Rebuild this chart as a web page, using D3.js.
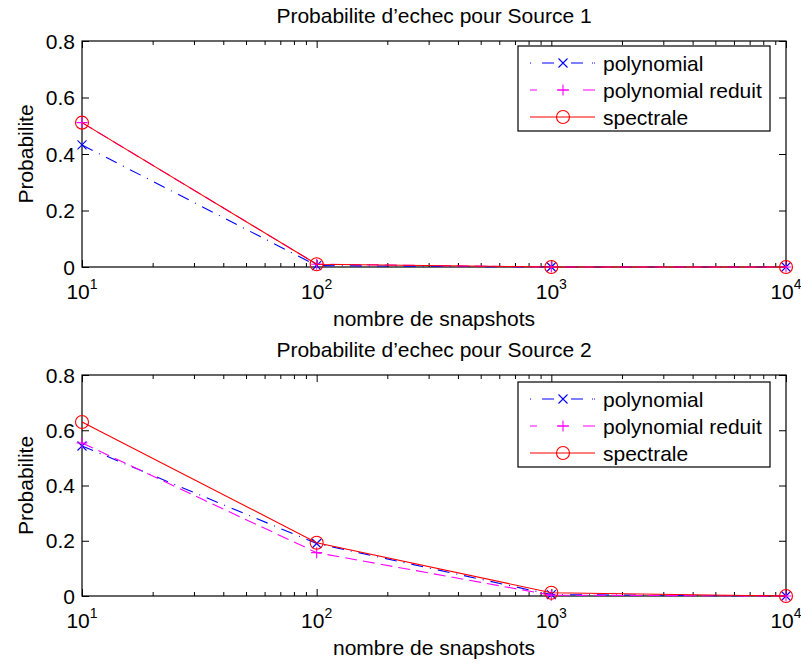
<!DOCTYPE html>
<html>
<head>
<meta charset="utf-8">
<script src="https://cdn.jsdelivr.net/npm/d3@7"></script>
<style>
  html, body { margin: 0; padding: 0; background: #fff; }
  svg { display: block; font-family: "Liberation Sans", Arial, Helvetica, sans-serif; }
</style>
</head>
<body>
<svg id="chart" width="801" height="661"></svg>
<script>
// ---- data ----
const snapshots = [10, 100, 1000, 10000];
const xTickExponents = [1, 2, 3, 4];
const yTickValues = [0, 0.2, 0.4, 0.6, 0.8];
const seriesNames = ["polynomial", "polynomial reduit", "spectrale"];
const panelTitles = ["Probabilite d\u2019echec pour Source 1", "Probabilite d\u2019echec pour Source 2"];
const xLabel = "nombre de snapshots";
const yLabel = "Probabilite";

const source1Polynomial = [0.432, 0.005, 0, 0];
const source1Reduit     = [0.511, 0.01, 0, 0];
const source1Spectrale  = [0.511, 0.01, 0, 0];

const source2Polynomial = [0.543, 0.19, 0.005, 0];
const source2Reduit     = [0.554, 0.157, 0.003, 0];
const source2Spectrale  = [0.63, 0.193, 0.012, 0];

// ---- styles ----
const seriesStyles = [
  { color: "#0000ff", dash: "12,7,1,7", legendDash: "1,11,12,17,12,9,1", marker: "x" },
  { color: "#ff00ff", dash: "12,6", legendDash: "7,20,12,14,12", marker: "+" },
  { color: "#ff0000", dash: null, legendDash: null, marker: "o" }
];

const svg = d3.select("#chart");
const FONT = 21;

const panels = [
  { top: 41, bottom: 267, data: [source1Polynomial, source1Reduit, source1Spectrale], title: panelTitles[0], legendTop: 46 },
  { top: 375, bottom: 596, data: [source2Polynomial, source2Reduit, source2Spectrale], title: panelTitles[1], legendTop: 382 }
];
const left = 82, right = 786;

function drawMarker(g, type, x, y, color) {
  if (type === "x") {
    const s = 4.5;
    g.append("path").attr("d", `M${x-s},${y-s}L${x+s},${y+s}M${x-s},${y+s}L${x+s},${y-s}`)
      .attr("stroke", color).attr("stroke-width", 1.1).attr("fill", "none");
  } else if (type === "+") {
    const s = 5.5;
    g.append("path").attr("d", `M${x-s},${y}L${x+s},${y}M${x},${y-s}L${x},${y+s}`)
      .attr("stroke", color).attr("stroke-width", 1.1).attr("fill", "none");
  } else {
    g.append("circle").attr("cx", x).attr("cy", y).attr("r", 6.5)
      .attr("stroke", color).attr("stroke-width", 1.1).attr("fill", "none");
  }
}

panels.forEach(p => {
  const x = d3.scaleLog().domain([10, 10000]).range([left, right]);
  const y = d3.scaleLinear().domain([0, 0.8]).range([p.bottom, p.top]);
  const g = svg.append("g");

  g.append("rect").attr("x", left).attr("y", p.top).attr("width", right - left).attr("height", p.bottom - p.top)
    .attr("fill", "#fff");

  const majorLen = 7, minorLen = 4;
  const minorTicks = [];
  for (let e = 1; e < 4; e++) for (let m = 2; m <= 9; m++) minorTicks.push(m * Math.pow(10, e));

  const bottomAxis = d3.axisBottom(x).tickValues(xTickExponents.map(e => Math.pow(10, e))).tickSize(-majorLen).tickFormat("");
  const topAxis = d3.axisTop(x).tickValues(xTickExponents.map(e => Math.pow(10, e))).tickSize(-majorLen).tickFormat("");
  const bottomMinor = d3.axisBottom(x).tickValues(minorTicks).tickSize(-minorLen).tickFormat("");
  const topMinor = d3.axisTop(x).tickValues(minorTicks).tickSize(-minorLen).tickFormat("");
  const leftAxis = d3.axisLeft(y).tickValues(yTickValues).tickSize(-majorLen).tickFormat("");
  const rightAxis = d3.axisRight(y).tickValues(yTickValues).tickSize(-majorLen).tickFormat("");

  [[bottomAxis, `translate(0,${p.bottom})`], [bottomMinor, `translate(0,${p.bottom})`],
   [topAxis, `translate(0,${p.top})`], [topMinor, `translate(0,${p.top})`],
   [leftAxis, `translate(${left},0)`], [rightAxis, `translate(${right},0)`]].forEach(([ax, tr]) => {
    const a = g.append("g").attr("transform", tr).call(ax);
    a.select(".domain").remove();
    a.selectAll("line").attr("stroke", "#000").attr("stroke-width", 1);
  });

  g.append("rect").attr("x", left).attr("y", p.top).attr("width", right - left).attr("height", p.bottom - p.top)
    .attr("fill", "none").attr("stroke", "#000").attr("stroke-width", 1.2);

  yTickValues.forEach(v => {
    g.append("text").attr("x", left - 7).attr("y", y(v)).attr("dy", "0.36em")
      .attr("text-anchor", "end").attr("font-size", FONT).text(v === 0 ? "0" : d3.format(".1f")(v));
  });

  xTickExponents.forEach(e => {
    const t = g.append("text").attr("x", x(Math.pow(10, e))).attr("y", p.bottom + 32)
      .attr("text-anchor", "middle").attr("font-size", FONT);
    t.append("tspan").text("10");
    t.append("tspan").attr("dy", -10).attr("font-size", 14).text(String(e));
  });

  g.append("text").attr("x", (left + right) / 2).attr("y", p.bottom + 59)
    .attr("text-anchor", "middle").attr("font-size", FONT).text(xLabel);
  g.append("text").attr("transform", `translate(25,${(p.top + p.bottom) / 2}) rotate(-90)`)
    .attr("dy", "0.36em").attr("text-anchor", "middle").attr("font-size", FONT).text(yLabel);
  g.append("text").attr("x", (left + right) / 2).attr("y", p.top - 18)
    .attr("text-anchor", "middle").attr("font-size", FONT).text(p.title);

  const line = d3.line().x((d, i) => x(snapshots[i])).y(d => y(d));
  p.data.forEach((vals, si) => {
    const st = seriesStyles[si];
    const path = g.append("path").datum(vals).attr("d", line)
      .attr("fill", "none").attr("stroke", st.color).attr("stroke-width", 1.1);
    if (st.dash) path.attr("stroke-dasharray", st.dash);
    vals.forEach((v, i) => drawMarker(g, st.marker, x(snapshots[i]), y(v), st.color));
  });

  const lx0 = 518, lx1 = 770, lt = p.legendTop, lh = 85;
  g.append("rect").attr("x", lx0).attr("y", lt).attr("width", lx1 - lx0).attr("height", lh)
    .attr("fill", "#fff").attr("stroke", "#000").attr("stroke-width", 1.2);
  seriesNames.forEach((name, si) => {
    const st = seriesStyles[si];
    const ry = lt + 17 + si * 27;
    const l = g.append("line").attr("x1", 530).attr("x2", 595).attr("y1", ry).attr("y2", ry)
      .attr("stroke", st.color).attr("stroke-width", 1.1);
    if (st.legendDash) l.attr("stroke-dasharray", st.legendDash);
    drawMarker(g, st.marker, 563, ry, st.color);
    g.append("text").attr("x", 603).attr("y", ry).attr("dy", "0.36em")
      .attr("font-size", FONT).text(name);
  });
});
</script>
</body>
</html>
